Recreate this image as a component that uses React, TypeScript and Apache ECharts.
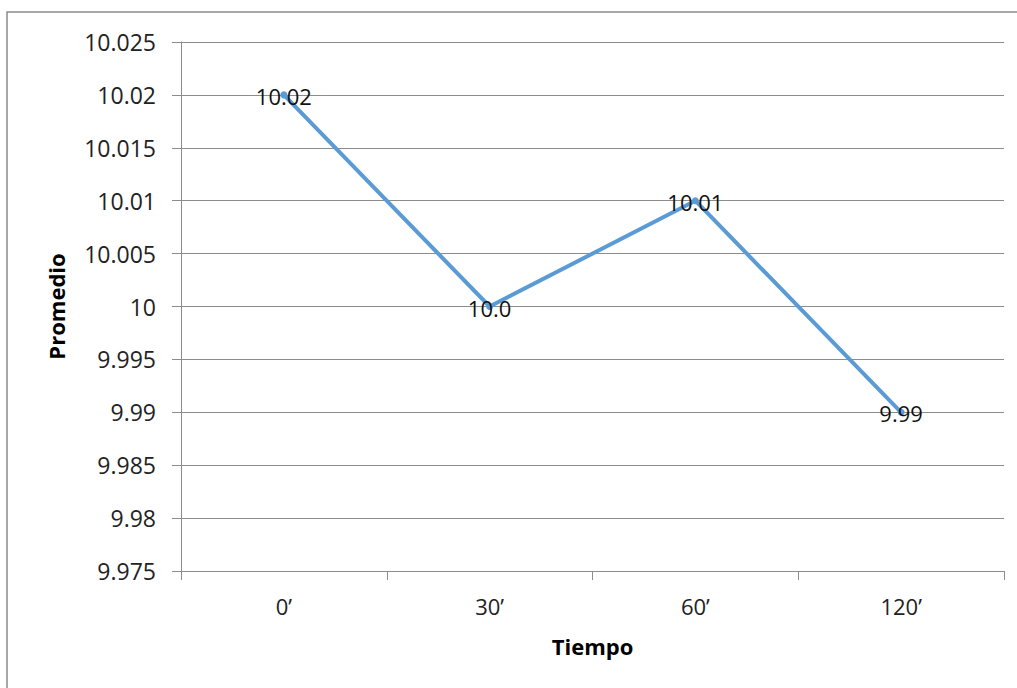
import React, { useEffect, useRef } from "react";
import * as echarts from "echarts";

const categories = ["0’", "30’", "60’", "120’"];
const values = [10.02, 10.0, 10.01, 9.99];
const pointLabels = ["10.02", "10.0", "10.01", "9.99"];
const yMin = 9.975;
const yMax = 10.025;
const yStep = 0.005;

const FONT = "'Open Sans', 'Noto Sans', sans-serif";

export default function App() {
  const ref = useRef<HTMLDivElement>(null);
  useEffect(() => {
    if (!ref.current) return;
    const chart = echarts.init(ref.current, undefined, { renderer: "svg" });
    chart.setOption({
      animation: false,
      backgroundColor: "#ffffff",
      graphic: [
        {
          type: "rect",
          shape: { x: 7, y: 12, width: 1100, height: 800 },
          style: { fill: "none", stroke: "#8c8c8c", lineWidth: 1.5 },
          silent: true,
          z: 0,
        },
      ],
      grid: { left: 181, top: 42, right: 13, bottom: 117 },
      xAxis: {
        type: "category",
        data: categories,
        boundaryGap: true,
        name: "Tiempo",
        nameLocation: "middle",
        nameGap: 64,
        nameTextStyle: { fontFamily: FONT, fontSize: 22, fontWeight: "bold", color: "#000" },
        axisLine: { show: true, lineStyle: { color: "#8c8c8c", width: 1 } },
        axisTick: { show: true, length: 9, alignWithLabel: false, lineStyle: { color: "#8c8c8c" } },
        axisLabel: { fontFamily: FONT, fontSize: 22, color: "#222", margin: 24 },
        splitLine: { show: false },
      },
      yAxis: {
        type: "value",
        min: yMin,
        max: yMax,
        interval: yStep,
        name: "Promedio",
        nameLocation: "middle",
        nameGap: 114,
        nameTextStyle: { fontFamily: FONT, fontSize: 22, fontWeight: "bold", color: "#000" },
        axisLine: { show: true, lineStyle: { color: "#8c8c8c", width: 1 } },
        axisTick: { show: true, length: 9, lineStyle: { color: "#8c8c8c" } },
        axisLabel: {
          fontFamily: FONT,
          fontSize: 23,
          color: "#222",
          margin: 25,
          formatter: (v: number) => String(parseFloat(v.toFixed(3))),
        },
        splitLine: { show: true, lineStyle: { color: "#8c8c8c", width: 1 } },
      },
      series: [
        {
          type: "line",
          data: values,
          symbol: "circle",
          symbolSize: 7,
          itemStyle: { color: "#5B9BD5" },
          lineStyle: { color: "#5B9BD5", width: 4 },
          label: {
            show: true,
            position: "inside",
            offset: [0, 1],
            fontFamily: FONT,
            fontSize: 22,
            color: "#111",
            formatter: (p: any) => pointLabels[p.dataIndex],
          },
          z: 3,
        },
      ],
    });
    return () => chart.dispose();
  }, []);
  return (
    <div
      ref={ref}
      style={{ position: "absolute", left: 0, top: 0, width: 1017, height: 688 }}
    />
  );
}
